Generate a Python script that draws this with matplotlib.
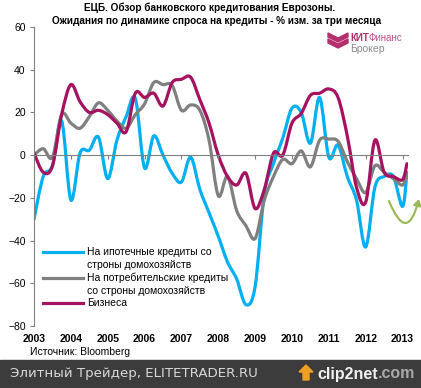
import numpy as np
import matplotlib
matplotlib.use('Agg')
import matplotlib.pyplot as plt
from matplotlib.path import Path
from matplotlib.patches import PathPatch, Rectangle, Polygon, FancyArrowPatch
from matplotlib.lines import Line2D
from matplotlib.text import Annotation

plt.rcParams['font.family'] = ['Liberation Sans', 'DejaVu Sans']

# quarterly survey points, last one is the latest expectation
dates = [2003 + q / 4 for q in range(41)] + [2013.12]

mortgage = [-30, -10, -5, 16, -21, 1, 2.3, 8.4, -11, 7,
            18, 26.5, -6, 9, 0, -8.5, -12.6, -1, -16, -27,
            -38, -50, -58, -70, -61.5, -18, -3.8, 8, 22, 20,
            5.6, 27, -1, 4.7, -10, -21, -43, -15, -10, -10,
            -24, -8]
consumer = [0, 3, -1, 19, 15, 12.6, 18, 24.5, 21, 16,
            12.6, 19, 24, 34, 33, 32.6, 21, 23.5, 21, 7,
            -19, -10, -26, -33, -39, -21, -10, -2, -4, 2,
            -5.5, 7, 7.5, 6.5, -3, -11, -17.5, -5, -8, -11,
            -14, -8.5]
business = [1, -8, -5, 19, 33, 25, 20, 21, 19, 15,
            11, 29, 27, 29, 23, 34, 35.5, 36.5, 26, 15,
            0, -10, -14, -8.5, -25, -16, 1, 0, 15, 19.5,
            28, 29, 31, 27, 9, -15, -22, 7, -8, -10,
            -11.5, -4]

labels = ['На ипотечные кредиты со\nстроны домохозяйств',
          'На потребительские кредиты\nсо строны домохозяйств',
          'Бизнеса']
colors = ['#00B0F0', '#808080', '#A6125F']
years = list(range(2003, 2014))

W, H = 421, 388


def px(x, y):
    return x / W, 1 - y / H


def smooth_path(x, y):
    # excel-style smoothed line (catmull-rom as cubic bezier)
    n = len(x)
    verts = [(x[0], y[0])]
    codes = [Path.MOVETO]
    for k in range(n - 1):
        a, b = max(k - 1, 0), min(k + 2, n - 1)
        c1 = (x[k] + (x[k + 1] - x[a]) / 6, y[k] + (y[k + 1] - y[a]) / 6)
        c2 = (x[k + 1] - (x[b] - x[k]) / 6, y[k + 1] - (y[b] - y[k]) / 6)
        verts += [c1, c2, (x[k + 1], y[k + 1])]
        codes += [Path.CURVE4] * 3
    return Path(verts, codes)


fig = plt.figure(figsize=(W / 100, H / 100), dpi=100)
ax = fig.add_axes([34 / W, (H - 326) / H, (407.7 - 34) / W, 299 / H])

for series, c in zip([mortgage, consumer, business], colors):
    ax.add_patch(PathPatch(smooth_path(dates, series), fill=False,
                           edgecolor=c, lw=2.3, capstyle='round',
                           joinstyle='round'))

ax.set_xlim(2003, 2013.14)
ax.set_ylim(-80, 60)
ax.set_yticks(range(-80, 61, 20))
ax.tick_params(axis='y', direction='out', length=3, color='#808080',
               labelsize=7.5, pad=3)

for s in ['top', 'right']:
    ax.spines[s].set_visible(False)
ax.spines['left'].set_color('#808080')
ax.spines['bottom'].set_position(('data', 0))
ax.spines['bottom'].set_color('#808080')
ax.set_xticks(years)
ax.tick_params(axis='x', direction='out', length=3, color='#808080',
               labelbottom=False)

sec = ax.secondary_xaxis(0.0)
sec.set_xticks(years)
sec.set_xticklabels([str(y) for y in years], fontsize=7.5,
                    fontweight='bold')
sec.tick_params(length=0, pad=6)
sec.spines['bottom'].set_visible(False)

# title
fig.text(*px(210, 8), 'ЕЦБ. Обзор банковского кредитования Еврозоны.',
         ha='center', va='center', fontsize=7.2, fontweight='bold')
fig.text(*px(217, 21),
         'Ожидания по динамике спроса на кредиты - % изм. за три месяца',
         ha='center', va='center', fontsize=7.2, fontweight='bold')

# legend
for k, (lab, c) in enumerate(zip(labels, colors)):
    ly = [252, 278, 303][k]
    fig.add_artist(Line2D([43 / W, 83 / W], [1 - ly / H] * 2, color=c,
                          lw=2.3, transform=fig.transFigure))
    for j, part in enumerate(lab.split('\n')):
        fig.text(*px(87, ly + 12.5 * j), part, ha='left', va='center',
                 fontsize=7.5)

fig.text(*px(30, 352), 'Источник: Bloomberg', ha='left', va='center',
         fontsize=7.5)

# green curved arrow
fig.add_artist(FancyArrowPatch(px(389, 201), px(419, 199),
                               connectionstyle='arc3,rad=1.5',
                               arrowstyle='-|>,head_length=3.5,head_width=2.2',
                               color='#9BBB59', lw=1.6, shrinkA=0, shrinkB=0,
                               transform=fig.transFigure))

# logo
pink = '#B5306C'
for dy in [0, 6]:
    pts = [(328, 33 + dy), (338, 38 + dy), (348, 33 + dy), (348, 37 + dy),
           (338, 42 + dy), (328, 37 + dy)]
    fig.add_artist(Polygon([px(a, b) for a, b in pts], closed=True,
                           color=pink, transform=fig.transFigure))
kit = fig.text(*px(350, 38), 'КИТ', ha='left', va='center', fontsize=7,
               fontweight='bold', color=pink)
fig.add_artist(Annotation('Финанс', xy=(1, 0.5), xycoords=kit, ha='left',
                          va='center', fontsize=7, color='#C0508A'))
fig.text(*px(350, 49), 'Брокер', ha='left', va='center', fontsize=7.5,
         color='#8C8C8C')

# bottom band
fig.add_artist(Rectangle((0, 0), 1, 28 / H, color='#3C3C3C',
                         transform=fig.transFigure, zorder=1))
fig.text(*px(10, 374), 'Элитный Трейдер, ELITETRADER.RU', ha='left',
         va='center', fontsize=9.6, color='#D8D8D8', family='DejaVu Sans',
         zorder=3)
fig.add_artist(Polygon([px(a, b) for a, b in
                        [(299, 372), (306, 365), (313, 372), (309, 372),
                         (309, 380), (303, 380), (303, 372)]],
                       closed=True, color='#F0A020',
                       transform=fig.transFigure, zorder=3))
c2n = fig.text(*px(317, 374), 'clip2net', ha='left', va='center',
               fontsize=11.5, fontweight='bold', color='#F0F0F0', zorder=3)
fig.add_artist(Annotation('.com', xy=(1, 0.5), xycoords=c2n, ha='left',
                          va='center', fontsize=11.5, fontweight='bold',
                          color='#A8A8A8', zorder=3))

fig.savefig('out.png', dpi=100)
